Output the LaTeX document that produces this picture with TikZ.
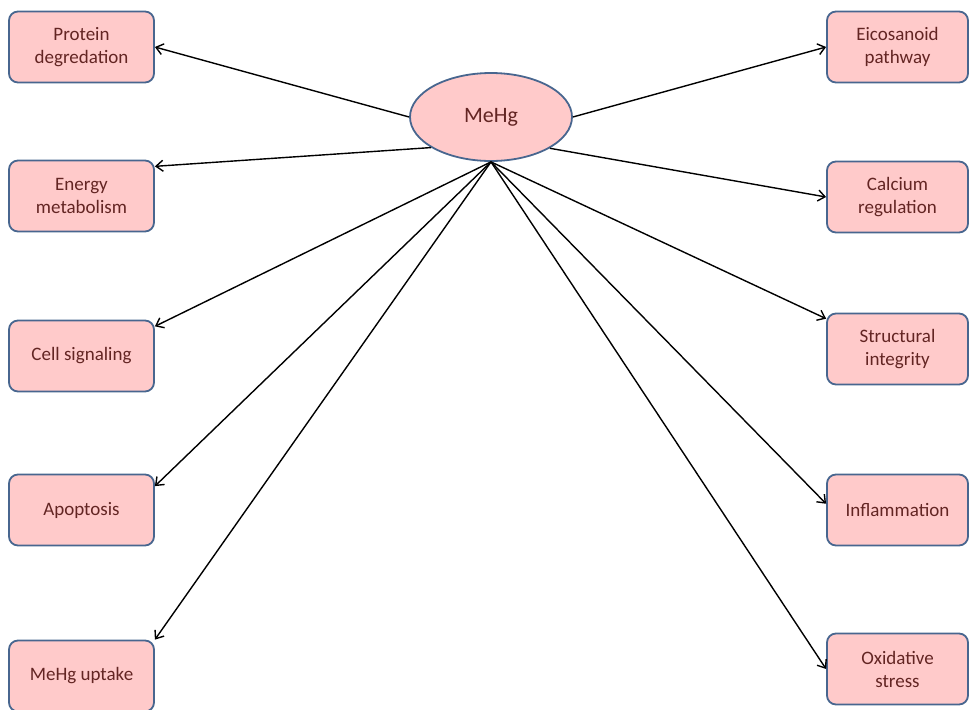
\documentclass[tikz,border=0pt]{standalone}
\usepackage{fontspec}
\setmainfont{Carlito}
\usetikzlibrary{shapes.geometric,arrows.meta}
\definecolor{boxfill}{HTML}{FFCACA}
\definecolor{boxline}{HTML}{48668F}
\definecolor{boxtext}{HTML}{632523}
\tikzset{
  topic/.style={draw=boxline, fill=boxfill, line width=1.8pt, rounded corners=9pt,
    minimum width=145pt, minimum height=71pt, align=center, text=boxtext,
    font=\fontsize{19}{23}\selectfont, inner sep=2pt},
  rtopic/.style={topic, minimum width=141pt},
  hub/.style={ellipse, draw=boxline, fill=boxfill, line width=1.8pt, inner sep=0pt,
    minimum width=162pt, minimum height=88pt, text=boxtext,
    font=\fontsize{22}{26}\selectfont},
  link/.style={-{Straight Barb[length=7pt,width=11pt]}, line width=1.4pt, black}
}
\begin{document}
\begin{tikzpicture}[x=1pt,y=-1pt]
\useasboundingbox (0,0) rectangle (970,710);
\node[hub] (mehg) at (491,117) {MeHg};
\node[topic] (protein) at (81.5,47) {Protein\\degredation};
\node[topic] (energy) at (81.5,196) {Energy\\metabolism};
\node[topic] (cell) at (81.5,356) {Cell signaling};
\node[topic] (apop) at (81.5,510) {Apoptosis};
\node[topic] (uptake) at (81.5,676) {MeHg uptake};
\node[rtopic] (eico) at (897.5,47) {Eicosanoid\\pathway};
\node[rtopic] (calc) at (897.5,197) {Calcium\\regulation};
\node[rtopic] (struct) at (897.5,349) {Structural\\integrity};
\node[rtopic] (infl) at (897.5,510) {Inflammation};
\node[rtopic] (oxid) at (897.5,669) {Oxidative\\stress};
\draw[link] (mehg.west) -- (protein.east);
\draw[link] (mehg.207) -- (energy.22);
\draw[link] (mehg.south) -- (cell.22);
\draw[link] (mehg.south) -- (apop.18);
\draw[link] (mehg.south) -- (uptake.north east);
\draw[link] (mehg.east) -- (eico.west);
\draw[link] (mehg.-28) -- (calc.west);
\draw[link] (mehg.south) -- (struct.157);
\draw[link] (mehg.south) -- (infl.175);
\draw[link] (mehg.south) -- (oxid.west);
\end{tikzpicture}
\end{document}
